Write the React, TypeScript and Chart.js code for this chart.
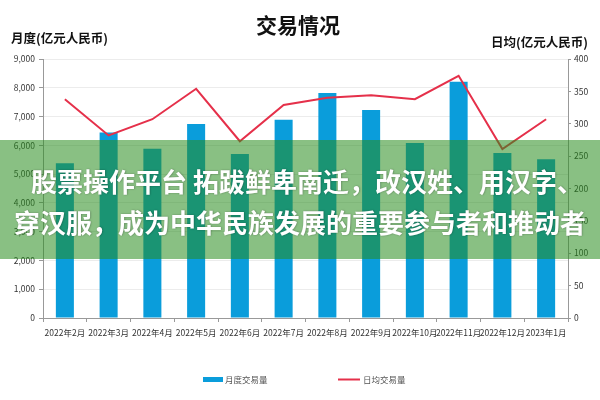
import React, { useEffect, useRef } from "react";
import { Chart, registerables } from "chart.js";

Chart.register(...registerables);

const categories = [
  "2022年2月", "2022年3月", "2022年4月", "2022年5月", "2022年6月", "2022年7月",
  "2022年8月", "2022年9月", "2022年10月", "2022年11月", "2022年12月", "2023年1月",
];
const monthlyVolume = [5380, 6450, 5880, 6740, 5700, 6890, 7820, 7230, 6080, 8210, 5730, 5520];
const dailyAverage = [338, 282, 307, 354, 273, 329, 340, 344, 338, 374, 261, 307];

const titleText = "交易情况";
const leftAxisTitle = "月度(亿元人民币)";
const rightAxisTitle = "日均(亿元人民币)";
const seriesNames = ["月度交易量", "日均交易量"];
const overlayLines = [
  "股票操作平台 拓跋鲜卑南迁，改汉姓、用汉字、",
  "穿汉服，成为中华民族发展的重要参与者和推动者",
];

const FONT = "'Noto Sans CJK SC', 'Noto Sans', sans-serif";
const BLUE = "#0a9ddb";
const RED = "#e5304a";

const decorPlugin = {
  id: "decor",
  afterDraw(chart: any) {
    const ctx = chart.ctx as CanvasRenderingContext2D;
    ctx.save();
    // title
    ctx.fillStyle = "#111";
    ctx.textBaseline = "middle";
    ctx.textAlign = "center";
    ctx.font = `bold 21px ${FONT}`;
    ctx.fillText(titleText, 298, 25);
    // axis titles
    ctx.font = `bold 12.5px ${FONT}`;
    ctx.textAlign = "left";
    ctx.fillText(leftAxisTitle, 11, 38);
    ctx.textAlign = "right";
    ctx.fillText(rightAxisTitle, 588, 42);
    // legend
    ctx.fillStyle = BLUE;
    ctx.fillRect(203, 377, 20, 5);
    ctx.strokeStyle = RED;
    ctx.lineWidth = 2;
    ctx.beginPath();
    ctx.moveTo(338, 379.5);
    ctx.lineTo(360, 379.5);
    ctx.stroke();
    ctx.fillStyle = "#555";
    ctx.font = `8.5px ${FONT}`;
    ctx.textAlign = "left";
    ctx.fillText(seriesNames[0], 225, 380);
    ctx.fillText(seriesNames[1], 363, 380);
    // overlay band
    ctx.fillStyle = "rgba(40,140,30,0.55)";
    ctx.fillRect(0, 140, 600, 119);
    ctx.fillStyle = "#ffffff";
    ctx.font = `bold 26px ${FONT}`;
    ctx.shadowColor = "rgba(0,0,0,0.35)";
    ctx.shadowBlur = 2;
    ctx.shadowOffsetX = 0.5;
    ctx.shadowOffsetY = 0.5;
    ctx.textAlign = "left";
    ctx.fillText(overlayLines[0], 31, 182);
    ctx.fillText(overlayLines[1], 14, 223);
    ctx.restore();
  },
};

export default function App() {
  const ref = useRef<HTMLCanvasElement>(null);
  useEffect(() => {
    if (!ref.current) return;
    const chart = new Chart(ref.current, {
      type: "bar",
      data: {
        labels: categories,
        datasets: [
          {
            type: "line",
            label: seriesNames[1],
            data: dailyAverage,
            yAxisID: "y1",
            borderColor: RED,
            backgroundColor: RED,
            borderWidth: 2,
            pointRadius: 0,
            tension: 0,
            order: 0,
          } as any,
          {
            type: "bar",
            label: seriesNames[0],
            data: monthlyVolume,
            yAxisID: "y",
            backgroundColor: BLUE,
            categoryPercentage: 0.8,
            barPercentage: 0.515,
            order: 1,
          },
        ],
      },
      options: {
        responsive: false,
        animation: false,
        layout: { padding: { top: 59, bottom: 52, left: 0, right: 0 } },
        plugins: {
          legend: { display: false },
          title: { display: false },
          tooltip: { enabled: false },
        },
        scales: {
          x: {
            offset: true,
            afterFit: (s: any) => { s.height = 30; },
            grid: {
              display: true,
              offset: true,
              drawOnChartArea: false,
              drawTicks: true,
              tickLength: 4,
              tickColor: "#999",
            },
            border: { display: true, color: "#999" },
            ticks: {
              autoSkip: false,
              maxRotation: 0,
              minRotation: 0,
              padding: 6,
              color: "#333",
              font: { family: FONT, size: 8.5 },
            },
          },
          y: {
            position: "left",
            min: 0,
            max: 9000,
            afterFit: (s: any) => { s.width = 43; },
            grid: {
              color: "#ececec",
              drawTicks: true,
              tickLength: 4,
              tickColor: "#999",
            },
            border: { display: true, color: "#999" },
            ticks: {
              stepSize: 1000,
              padding: 4,
              color: "#333",
              font: { family: FONT, size: 8.5 },
            },
          },
          y1: {
            position: "right",
            min: 0,
            max: 400,
            afterFit: (s: any) => { s.width = 32; },
            grid: {
              drawOnChartArea: false,
              drawTicks: true,
              tickLength: 3,
              tickColor: "#999",
            },
            border: { display: true, color: "#999" },
            ticks: {
              stepSize: 50,
              padding: 3,
              color: "#333",
              font: { family: FONT, size: 8.5 },
            },
          },
        },
      },
      plugins: [decorPlugin],
    });
    return () => chart.destroy();
  }, []);
  return (
    <div style={{ position: "fixed", left: 0, top: 0, width: 600, height: 400, background: "#fff" }}>
      <canvas ref={ref} width={600} height={400} />
    </div>
  );
}
